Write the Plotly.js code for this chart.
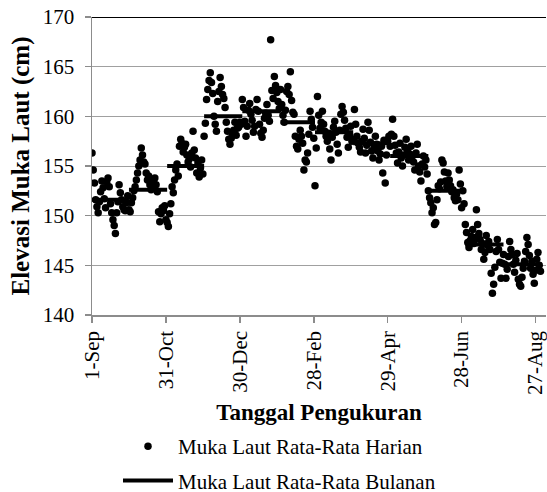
<!DOCTYPE html>
<html><head><meta charset="utf-8">
<script src="https://cdn.plot.ly/plotly-3.0.1.min.js"></script>
<style>html,body{margin:0;padding:0;background:#fff}</style>
</head><body><div id="chart" style="width:547px;height:492px"></div>
<script>
const startDate = '2010-09-01';
const sepVals = [156.3,154.6,153.3,151.6,150.9,150.3,151.4,152.4,153.5,152.8,151.7,150.8,153.4,153.8,152.9,151.2,150.3,149.6,149.0,148.2,150.3,151.4,153.1,152.3,151.6,150.9,150.6,150.5,151.3,152.0];
const octVals = [150.6,150.4,151.3,151.8,152.5,152.9,153.6,154.3,155.0,155.6,156.8,156.1,155.4,155.2,154.3,153.6,154.0,153.1,152.6,153.5,153.6,153.8,153.1,152.4,150.4,149.4,150.2,150.8,150.5,151.0,149.6];
const novVals = [149.3,148.9,150.2,151.2,152.9,152.3,153.6,154.6,155.2,154.0,157.0,157.7,157.3,156.4,156.9,157.2,156.1,155.4,155.7,154.9,156.3,158.5,156.6,155.8,154.3,155.3,153.9,154.8,155.6,154.2];
const decVals = [158.0,159.3,161.7,162.7,163.6,164.4,163.4,162.3,160.0,159.2,158.5,161.5,162.5,163.9,163.0,162.2,161.8,160.9,159.4,158.5,157.7,157.2,157.8,158.2,158.6,159.4,158.1,158.8,158.9,159.4,159.2];
const janVals = [161.7,160.9,159.5,158.0,159.0,160.6,161.3,160.2,159.6,158.4,159.0,160.7,161.7,160.5,159.2,158.3,157.9,158.6,159.8,160.3,161.2,160.1,159.5,167.7,162.6,161.8,164.0,163.1,162.4,161.5,160.8];
const febVals = [162.7,161.2,160.1,159.4,160.6,162.5,163.0,162.2,164.5,161.6,160.4,160.2,158.0,157.0,156.7,157.7,158.6,158.0,157.3,154.6,155.6,155.4,156.3,158.2,160.5,159.7,158.9,157.8];
const marVals = [153.0,156.8,162.0,160.1,158.8,159.4,160.5,159.2,158.5,158.0,157.5,158.3,156.7,155.6,157.9,158.9,159.5,158.4,157.2,156.3,158.6,160.2,161.0,160.4,159.6,158.8,157.9,156.9,158.2,159.0,157.5];
const aprVals = [157.7,160.7,159.2,158.0,157.3,156.9,156.4,157.5,158.7,157.8,156.3,157.1,159.4,158.6,157.4,156.5,155.8,156.9,158.0,157.2,156.5,155.6,156.2,157.0,154.3,157.6,153.3,156.1,157.5,158.0];
const mayVals = [157.0,158.2,159.7,158.0,157.1,156.3,155.3,156.4,157.3,155.8,155.0,156.1,156.9,157.7,156.6,155.6,156.2,157.0,156.0,155.4,154.6,156.3,157.2,155.0,154.4,153.5,155.2,156.0,154.9,155.6,154.2];
const junVals = [152.5,151.8,151.3,150.3,150.8,149.1,149.3,151.6,153.0,152.7,153.4,155.6,155.3,154.4,153.5,152.9,154.3,153.6,153.0,152.4,152.6,151.8,151.5,152.2,151.6,154.6,153.2,150.8,152.5,151.2];
const julVals = [149.1,148.3,147.3,146.8,147.5,147.9,148.6,147.2,147.8,150.6,149.1,148.2,147.6,146.6,147.2,145.6,146.3,148.0,147.0,147.4,146.6,144.2,142.2,143.1,144.8,146.4,147.6,146.6,145.3,143.7,145.2];
const augVals = [146.1,145.1,143.7,144.6,145.9,147.4,146.6,146.1,145.1,144.3,145.5,146.2,143.6,143.1,142.9,143.8,144.7,145.4,146.4,147.8,147.1,146.0,144.7,145.4,144.1,143.2,144.5,145.6,146.3,145.0,144.4];

const monthStarts = ['2010-09-01','2010-10-01','2010-11-01','2010-12-01','2011-01-01','2011-02-01','2011-03-01','2011-04-01','2011-05-01','2011-06-01','2011-07-01','2011-08-01'];
const monthEnds   = ['2010-10-01','2010-11-01','2010-12-01','2011-01-01','2011-02-01','2011-03-01','2011-04-01','2011-05-01','2011-06-01','2011-07-01','2011-08-01','2011-09-01'];
const monthlyMean = [151.6,152.6,155.0,160.0,160.5,159.4,158.4,157.3,156.0,152.5,147.1,145.1];

const tickDates  = ['2010-09-01','2010-10-31','2010-12-30','2011-02-28','2011-04-29','2011-06-28','2011-08-27'];
const tickLabels = ['1-Sep','31-Oct','30-Dec','28-Feb','29-Apr','28-Jun','27-Aug'];

const daily = [].concat(sepVals,octVals,novVals,decVals,janVals,febVals,marVals,aprVals,mayVals,junVals,julVals,augVals);
const t0 = Date.parse(startDate + 'T00:00:00Z');
const dailyDates = daily.map((_, i) => new Date(t0 + i*86400000).toISOString().slice(0,10));

const mx = [], my = [];
monthlyMean.forEach((v, i) => { mx.push(monthStarts[i], monthEnds[i], null); my.push(v, v, null); });

const FONT = 'Liberation Serif, serif';

const traces = [
  {x: dailyDates, y: daily, type: 'scatter', mode: 'markers', name: 'Muka Laut Rata-Rata Harian',
   marker: {color: '#000', size: 7.5}, legendgroup: 'a'},
  {x: mx, y: my, type: 'scatter', mode: 'lines', name: 'Muka Laut Rata-Rata Bulanan',
   line: {color: '#000', width: 4}, connectgaps: false, legendgroup: 'b'}
];

const layout = {
  width: 547, height: 492,
  margin: {l: 92, r: 1, t: 17, b: 177, autoexpand: false},
  paper_bgcolor: '#fff', plot_bgcolor: '#fff',
  font: {family: FONT, size: 21, color: '#000'},
  showlegend: true,
  legend: {x: (118-92)/454, xanchor: 'left', y: -(426-315)/298, yanchor: 'top', itemwidth: 50,
           font: {family: FONT, size: 21, color: '#000'}, tracegroupgap: 4, bgcolor: 'rgba(0,0,0,0)'},
  xaxis: {type: 'date', range: ['2010-09-01', '2011-09-04 12:00'],
          tickvals: tickDates, ticktext: tickLabels, tickangle: -90, ticklabeloverflow: 'allow',
          showgrid: false, showline: true, linecolor: '#8c8c8c', linewidth: 1.5,
          ticks: 'outside', ticklen: 6, tickcolor: '#8c8c8c', tickwidth: 1.5,
          tickfont: {family: FONT, size: 21, color: '#000'}, automargin: false, zeroline: false,
          title: {text: '<b>Tanggal Pengukuran</b>', font: {family: FONT, size: 23, color: '#000'}, standoff: 10}},
  yaxis: {range: [140, 170], dtick: 5, tick0: 140,
          showgrid: true, gridcolor: '#a0a0a0', gridwidth: 1,
          showline: true, linecolor: '#8c8c8c', linewidth: 1.5,
          ticks: 'outside', ticklen: 6, tickcolor: '#8c8c8c', tickwidth: 1.5,
          tickfont: {family: FONT, size: 21, color: '#000'}, ticklabelstandoff: 6, automargin: false, zeroline: false,
          title: {text: '<b>Elevasi Muka Laut (cm)</b>', font: {family: FONT, size: 25, color: '#000'}, standoff: 6}},
  shapes: [{type: 'line', xref: 'paper', x0: 0, x1: 1, yref: 'y', y0: 170, y1: 170, line: {color: '#000', width: 2}}]
};

Plotly.newPlot('chart', traces, layout, {displayModeBar: false, staticPlot: true});
</script>
</body></html>
